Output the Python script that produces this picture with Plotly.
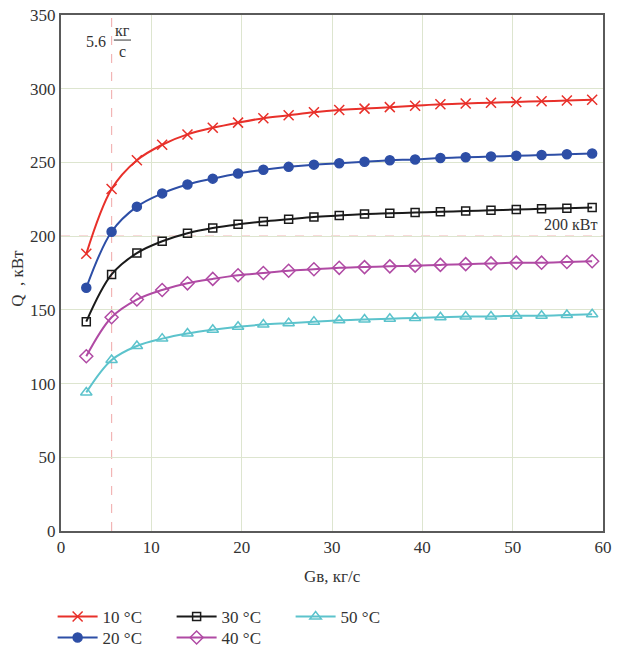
import plotly.graph_objects as go

G = [2.8 * k for k in range(1, 22)]
Q10 = [188, 232, 251.5, 262, 269, 273.5, 277, 280, 282, 284, 285.5, 286.5, 287.5, 288.5, 289.5, 290, 290.5, 291, 291.5, 292, 292.5]
Q20 = [165, 203, 220, 229, 235, 239, 242.5, 245, 247, 248.5, 249.5, 250.5, 251.5, 252, 253, 253.5, 254, 254.5, 255, 255.5, 256]
Q30 = [142, 174, 188.5, 196.5, 202, 205.5, 208, 210, 211.5, 213, 214, 215, 215.5, 216, 216.5, 217, 217.5, 218, 218.5, 219, 219.5]
Q40 = [118.5, 145, 157, 163.5, 168, 171, 173.5, 175, 176.5, 177.5, 178.5, 179, 179.5, 180, 180.5, 181, 181.5, 182, 182, 182.5, 183]
Q50 = [94, 116, 125.5, 130.5, 134, 136.5, 138.5, 140, 141, 142, 143, 143.5, 144, 144.5, 145, 145.5, 145.5, 146, 146, 146.5, 147]
labels = ["10 °C", "20 °C", "30 °C", "40 °C", "50 °C"]
G_mark = 5.6
Q_mark = 200

FONT = "Liberation Serif"
series = [
    (Q10, labels[0], "#e8302a", "x-thin", 10, "legend"),
    (Q20, labels[1], "#2d4ea6", "circle", 9, "legend2"),
    (Q30, labels[2], "#1a1a1a", "square-open", 8, "legend"),
    (Q40, labels[3], "#b04aa4", "diamond-open", 10, "legend2"),
    (Q50, labels[4], "#5cc3cc", "triangle-up-open", 10, "legend"),
]

fig = go.Figure()
for ys, name, col, sym, sz, leg in series:
    fig.add_trace(go.Scatter(
        x=G, y=ys, name=name, mode="lines+markers", legend=leg,
        line=dict(color=col, width=2, shape="spline"),
        marker=dict(symbol=sym, size=sz, color=col,
                    line=dict(color=col, width=1.5)),
    ))

fig.add_shape(type="line", x0=G_mark, x1=G_mark, y0=0, y1=350, xref="x", yref="y",
              line=dict(color="#f2b5b5", width=1.2, dash="dash"), layer="below")
fig.add_shape(type="line", x0=0, x1=60, y0=Q_mark, y1=Q_mark, xref="x", yref="y",
              line=dict(color="#f2b5b5", width=1.2, dash="dash"), layer="below")
fig.add_shape(type="line", x0=5.85, x1=7.75, y0=333, y1=333, xref="x", yref="y",
              line=dict(color="#333", width=1))

fig.add_annotation(x=5.2, y=331.7, xref="x", yref="y", text="5.6", showarrow=False,
                   xanchor="right", font=dict(family=FONT, size=16, color="#333"))
fig.add_annotation(x=6.8, y=339.5, xref="x", yref="y", text="кг", showarrow=False,
                   font=dict(family=FONT, size=16, color="#333"))
fig.add_annotation(x=6.8, y=325.5, xref="x", yref="y", text="с", showarrow=False,
                   font=dict(family=FONT, size=16, color="#333"))
fig.add_annotation(x=0.993, y=Q_mark, xref="paper", yref="y", text="200 кВт", showarrow=False,
                   xanchor="right", yanchor="bottom", yshift=1,
                   font=dict(family=FONT, size=16, color="#333"))
fig.add_annotation(x=-0.08, y=0.49, xref="paper", yref="paper", text="Q  , кВт", showarrow=False,
                   xanchor="center", yanchor="middle",
                   textangle=-90, font=dict(family=FONT, size=17, color="#333"))
fig.add_annotation(x=0.5, y=-0.089, xref="paper", yref="paper", text="Gв, кг/с", showarrow=False,
                   xanchor="center", yanchor="middle",
                   font=dict(family=FONT, size=17, color="#333"))

axis_common = dict(showline=True, mirror=True, linecolor="#5a5a5a", linewidth=2,
                   showgrid=True, gridcolor="#dde5cf", gridwidth=1, zeroline=False,
                   ticks="", automargin=False,
                   tickfont=dict(family=FONT, size=17, color="#333"))
fig.update_xaxes(range=[0, 60], dtick=10, **axis_common)
fig.update_yaxes(range=[0, 350], dtick=50, **axis_common)

leg_common = dict(orientation="h", xref="container", yref="container", xanchor="left",
                  yanchor="middle", entrywidth=64, entrywidthmode="pixels",
                  font=dict(family=FONT, size=17, color="#333"), bgcolor="rgba(0,0,0,0)",
                  itemwidth=40, tracegroupgap=0)
fig.update_layout(
    width=619, height=652,
    font=dict(family=FONT, color="#333"),
    margin=dict(l=61, r=16, t=15, b=121, autoexpand=False),
    plot_bgcolor="white", paper_bgcolor="white",
    showlegend=True,
    legend=dict(x=0.085, y=1 - 617 / 652, **leg_common),
    legend2=dict(x=0.085, y=1 - 638 / 652, **leg_common),
)
fig.write_html("out.html", config={"displayModeBar": False},
               post_script="document.body.style.margin='0';")
